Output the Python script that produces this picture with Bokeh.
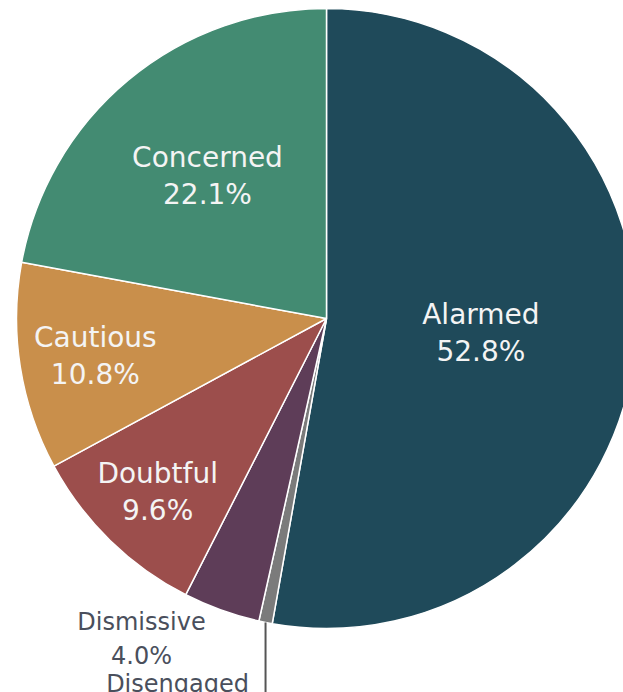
import numpy as np
from bokeh.plotting import figure
from bokeh.models import Range1d, ColumnDataSource
from bokeh.core.properties import value
from bokeh.embed import file_html
from bokeh.resources import INLINE

# ---- data ----
categories = ["Alarmed", "Disengaged", "Dismissive", "Doubtful", "Cautious", "Concerned"]
shares = [52.8, 0.7, 4.0, 9.6, 10.8, 22.1]

# ---- style ----
colors = ["#1f4a5a", "#7b7b7b", "#5e3d58", "#9c4e4c", "#c98f4b", "#438b72"]
inside = [True, False, False, True, True, True]
label_r = [0.50, 1.0, 1.0, 0.78, 0.755, 0.60]
out_dx = {"Disengaged": -88, "Dismissive": -80}
out_dy = {"Disengaged": 62, "Dismissive": 12}

W, H = 623, 692
CX, CY = 326, 318      # pie centre in canvas pixels
R = 310

frac = np.array(shares) / np.sum(shares)
cum_after = np.cumsum(frac)
cum_before = cum_after - frac
start = np.pi / 2 - 2 * np.pi * cum_after
end = np.pi / 2 - 2 * np.pi * cum_before
mid = (start + end) / 2

p = figure(width=W, height=H, output_backend="svg", toolbar_location=None,
           x_range=Range1d(-CX, W - CX), y_range=Range1d(-(H - CY), CY),
           min_border=0)
p.axis.visible = False
p.grid.visible = False
p.outline_line_color = None
p.background_fill_color = "white"
p.border_fill_color = "white"

src = ColumnDataSource(dict(cat=categories, start=start, end=end, color=colors))
p.wedge(x=0, y=0, radius=R, start_angle="start", end_angle="end",
        direction="anticlock", fill_color="color", line_color="white",
        line_width=1.5, source=src)

font = value("DejaVu Sans")
for i, c in enumerate(categories):
    pct = f"{shares[i]:.1f}%"
    lx = R * label_r[i] * np.cos(mid[i])
    ly = R * label_r[i] * np.sin(mid[i])
    if inside[i]:
        p.text(x=[lx], y=[ly], text=[c], y_offset=-18, text_align="center",
               text_baseline="middle", text_font=font, text_font_size="28px",
               text_color="#f4f4f4")
        p.text(x=[lx], y=[ly], text=[pct], y_offset=19, text_align="center",
               text_baseline="middle", text_font=font, text_font_size="28px",
               text_color="#f4f4f4")
    else:
        dx, dy = out_dx[c], out_dy[c]
        p.text(x=[lx], y=[ly], text=[c], x_offset=dx, y_offset=dy,
               text_align="center", text_baseline="middle", text_font=font,
               text_font_size="24px", text_color="#4a4f5c")
        p.text(x=[lx], y=[ly], text=[pct], x_offset=dx, y_offset=dy + 34,
               text_align="center", text_baseline="middle", text_font=font,
               text_font_size="24px", text_color="#4a4f5c")
        if c == "Disengaged":
            p.segment(x0=[lx], y0=[ly], x1=[lx], y1=[ly - 150],
                      line_color="#555555", line_width=2)

open("out.html", "w").write(file_html(p, INLINE))
